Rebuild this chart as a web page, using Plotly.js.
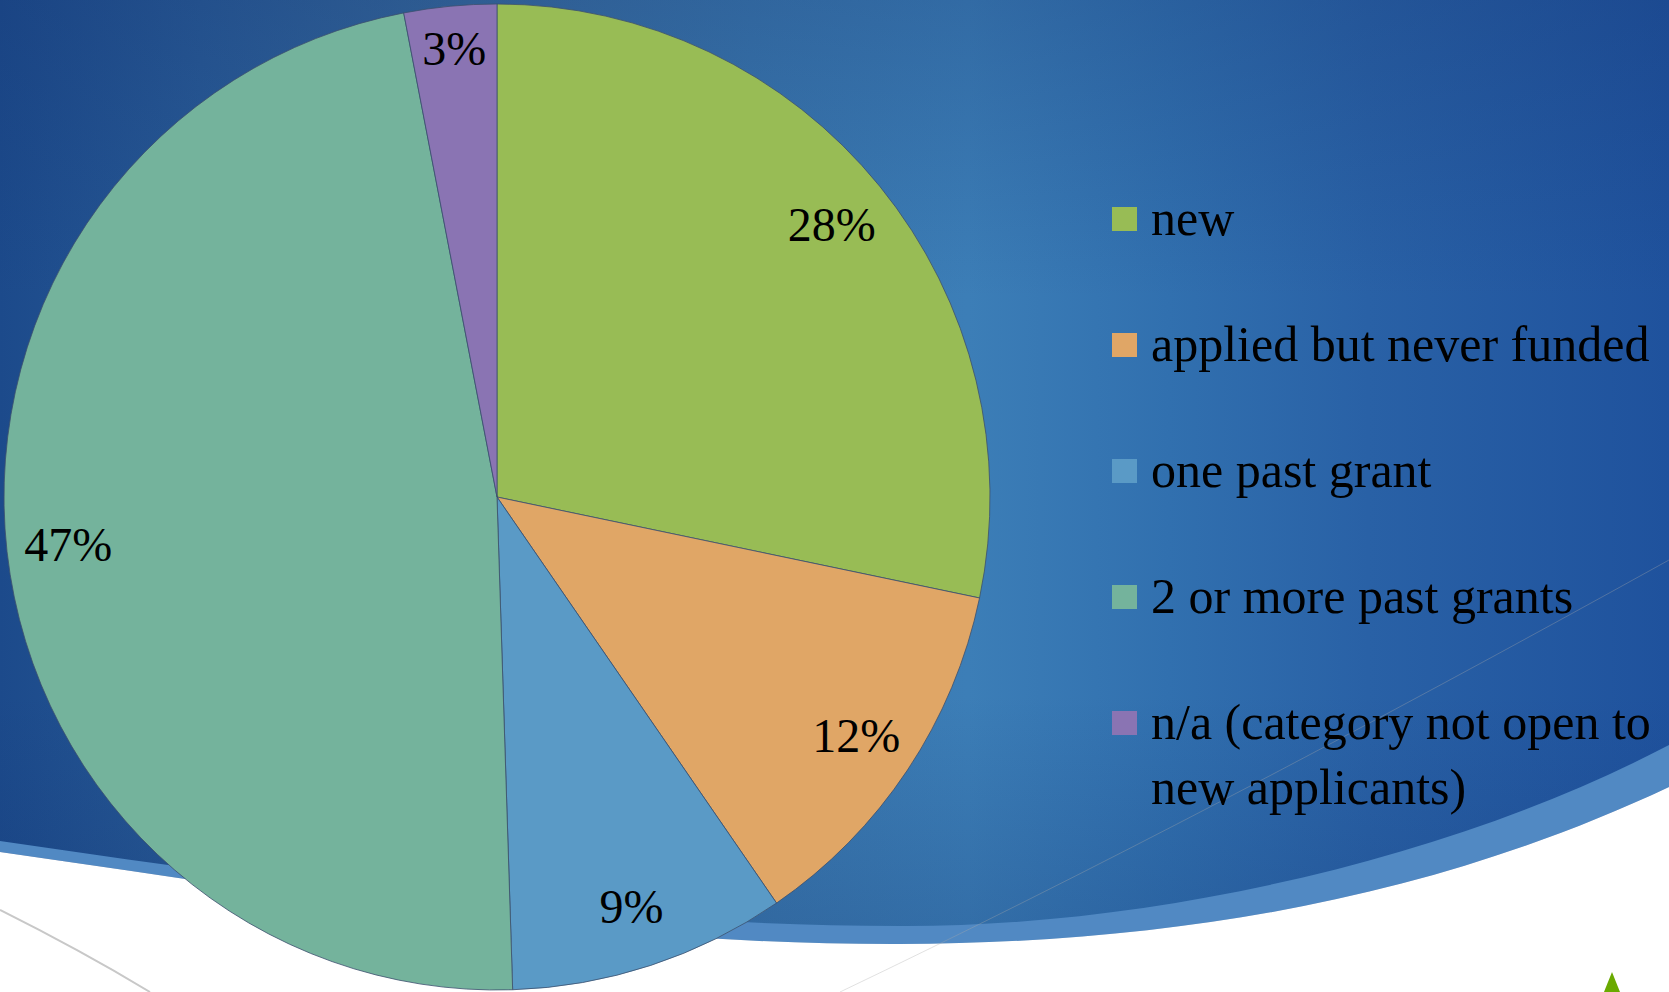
<!DOCTYPE html>
<html>
<head>
<meta charset="utf-8">
<script src="https://cdn.plot.ly/plotly-3.0.1.min.js"></script>
<style>
  html, body { margin: 0; padding: 0; }
  #chart {
    width: 1669px; height: 992px;
    background:
      linear-gradient(180deg, rgba(20,50,110,0.25) 0%, rgba(20,50,110,0) 30%, rgba(20,50,110,0) 70%, rgba(15,45,105,0.25) 100%),
      linear-gradient(90deg, #1c4a8b 0%, #285a96 12%, #386b9e 28%, #3a77ae 45%, #3c7eb7 58%, #3170af 70%, #2961a6 82%, #1f529d 100%);
  }
</style>
</head>
<body>
<div id="chart"></div>
<script>
// ---- data ----
const labels = ['new', 'applied but never funded', 'one past grant', '2 or more past grants', 'n/a (category not open to<br>new applicants)'];
const values = [28, 12, 9, 47, 3];
const colors = ['#98bc55', '#e0a666', '#5a9ac6', '#74b39c', '#8a74b3'];

// ---- helpers (pixel -> paper) ----
const W = 1669, H = 992;
const px = (x) => x / W;
const py = (y) => 1 - y / H;
function pathPx(cmds) {
  return cmds.replace(/(-?\d+(?:\.\d+)?),(-?\d+(?:\.\d+)?)/g, (m, a, b) => px(+a).toFixed(5) + ',' + py(+b).toFixed(5));
}

const FONT = '"Liberation Serif", "Times New Roman", serif';

const shapes = [];
// light blue band of the swoosh
shapes.push({
  type: 'path', xref: 'paper', yref: 'paper', layer: 'below',
  path: pathPx('M0,841 C300,885 600,925 900,926 C1150,927 1450,860 1669,745 L1669,787 C1450,890 1200,943 900,944 C600,945 300,895 0,852 Z'),
  fillcolor: '#5189c3', line: { width: 0 }
});
// white area
shapes.push({
  type: 'path', xref: 'paper', yref: 'paper', layer: 'below',
  path: pathPx('M0,852 C300,895 600,945 900,944 C1200,943 1450,890 1669,787 L1669,992 L0,992 Z'),
  fillcolor: '#ffffff', line: { width: 0 }
});
// thin arcs
shapes.push({
  type: 'path', xref: 'paper', yref: 'paper', layer: 'below',
  path: pathPx('M0,910 Q80,950 150,992'),
  line: { color: '#c8c8c8', width: 2 }
});
shapes.push({
  type: 'path', xref: 'paper', yref: 'paper', layer: 'below',
  path: pathPx('M840,992 Q1200,820 1669,560'),
  line: { color: 'rgba(170,170,170,0.35)', width: 1 }
});
// small green triangle
shapes.push({
  type: 'path', xref: 'paper', yref: 'paper', layer: 'below',
  path: pathPx('M1604,992 L1612,972 L1620,992 Z'),
  fillcolor: '#6aaa00', line: { width: 0 }
});

// legend (custom, larger swatches & spacing like the original)
const annotations = [];
const legX = 1112, legSw = 25, legTextX = 1149, legY0 = 218, legStep = 126, FS = 50, LH = 1.3 * FS;
labels.forEach((lab, i) => {
  const yc = legY0 + i * legStep;
  const nLines = lab.split('<br>').length;
  shapes.push({
    type: 'rect', xref: 'paper', yref: 'paper', layer: 'above',
    x0: px(legX), x1: px(legX + legSw), y0: py(yc + 1 + 12), y1: py(yc + 1 - 12),
    fillcolor: colors[i], line: { width: 0 }
  });
  annotations.push({
    xref: 'paper', yref: 'paper', x: px(legTextX), y: py(yc + (nLines - 1) * LH / 2),
    xanchor: 'left', yanchor: 'middle', showarrow: false, align: 'left',
    text: lab, font: { family: FONT, size: FS, color: '#000000' }
  });
});

const domain = { x: [px(4), px(990)], y: [py(990), py(4)] };

// slices
const slices = {
  type: 'pie',
  labels: labels,
  values: values,
  sort: false,
  direction: 'clockwise',
  rotation: 0,
  marker: { colors: colors, line: { color: 'rgba(60,80,110,0.8)', width: 1 } },
  textinfo: 'none',
  hoverinfo: 'label+value',
  domain: domain,
  showlegend: false
};

// percentage labels placed in the outer ring of the same pie
const pctLabels = {
  type: 'pie',
  labels: labels,
  values: values,
  sort: false,
  direction: 'clockwise',
  rotation: 0,
  hole: 0.75,
  marker: { colors: values.map(() => 'rgba(0,0,0,0)'), line: { width: 0 } },
  texttemplate: '%{value}%',
  textposition: 'inside',
  insidetextorientation: 'horizontal',
  textfont: { family: FONT, size: 48, color: '#000000' },
  hoverinfo: 'skip',
  domain: domain,
  showlegend: false
};

const layout = {
  width: W, height: H,
  margin: { l: 0, r: 0, t: 0, b: 0 },
  paper_bgcolor: 'rgba(0,0,0,0)',
  plot_bgcolor: 'rgba(0,0,0,0)',
  showlegend: false,
  shapes: shapes,
  annotations: annotations,
  font: { family: FONT }
};

Plotly.newPlot('chart', [slices, pctLabels], layout, { displayModeBar: false, staticPlot: true });
</script>
</body>
</html>
